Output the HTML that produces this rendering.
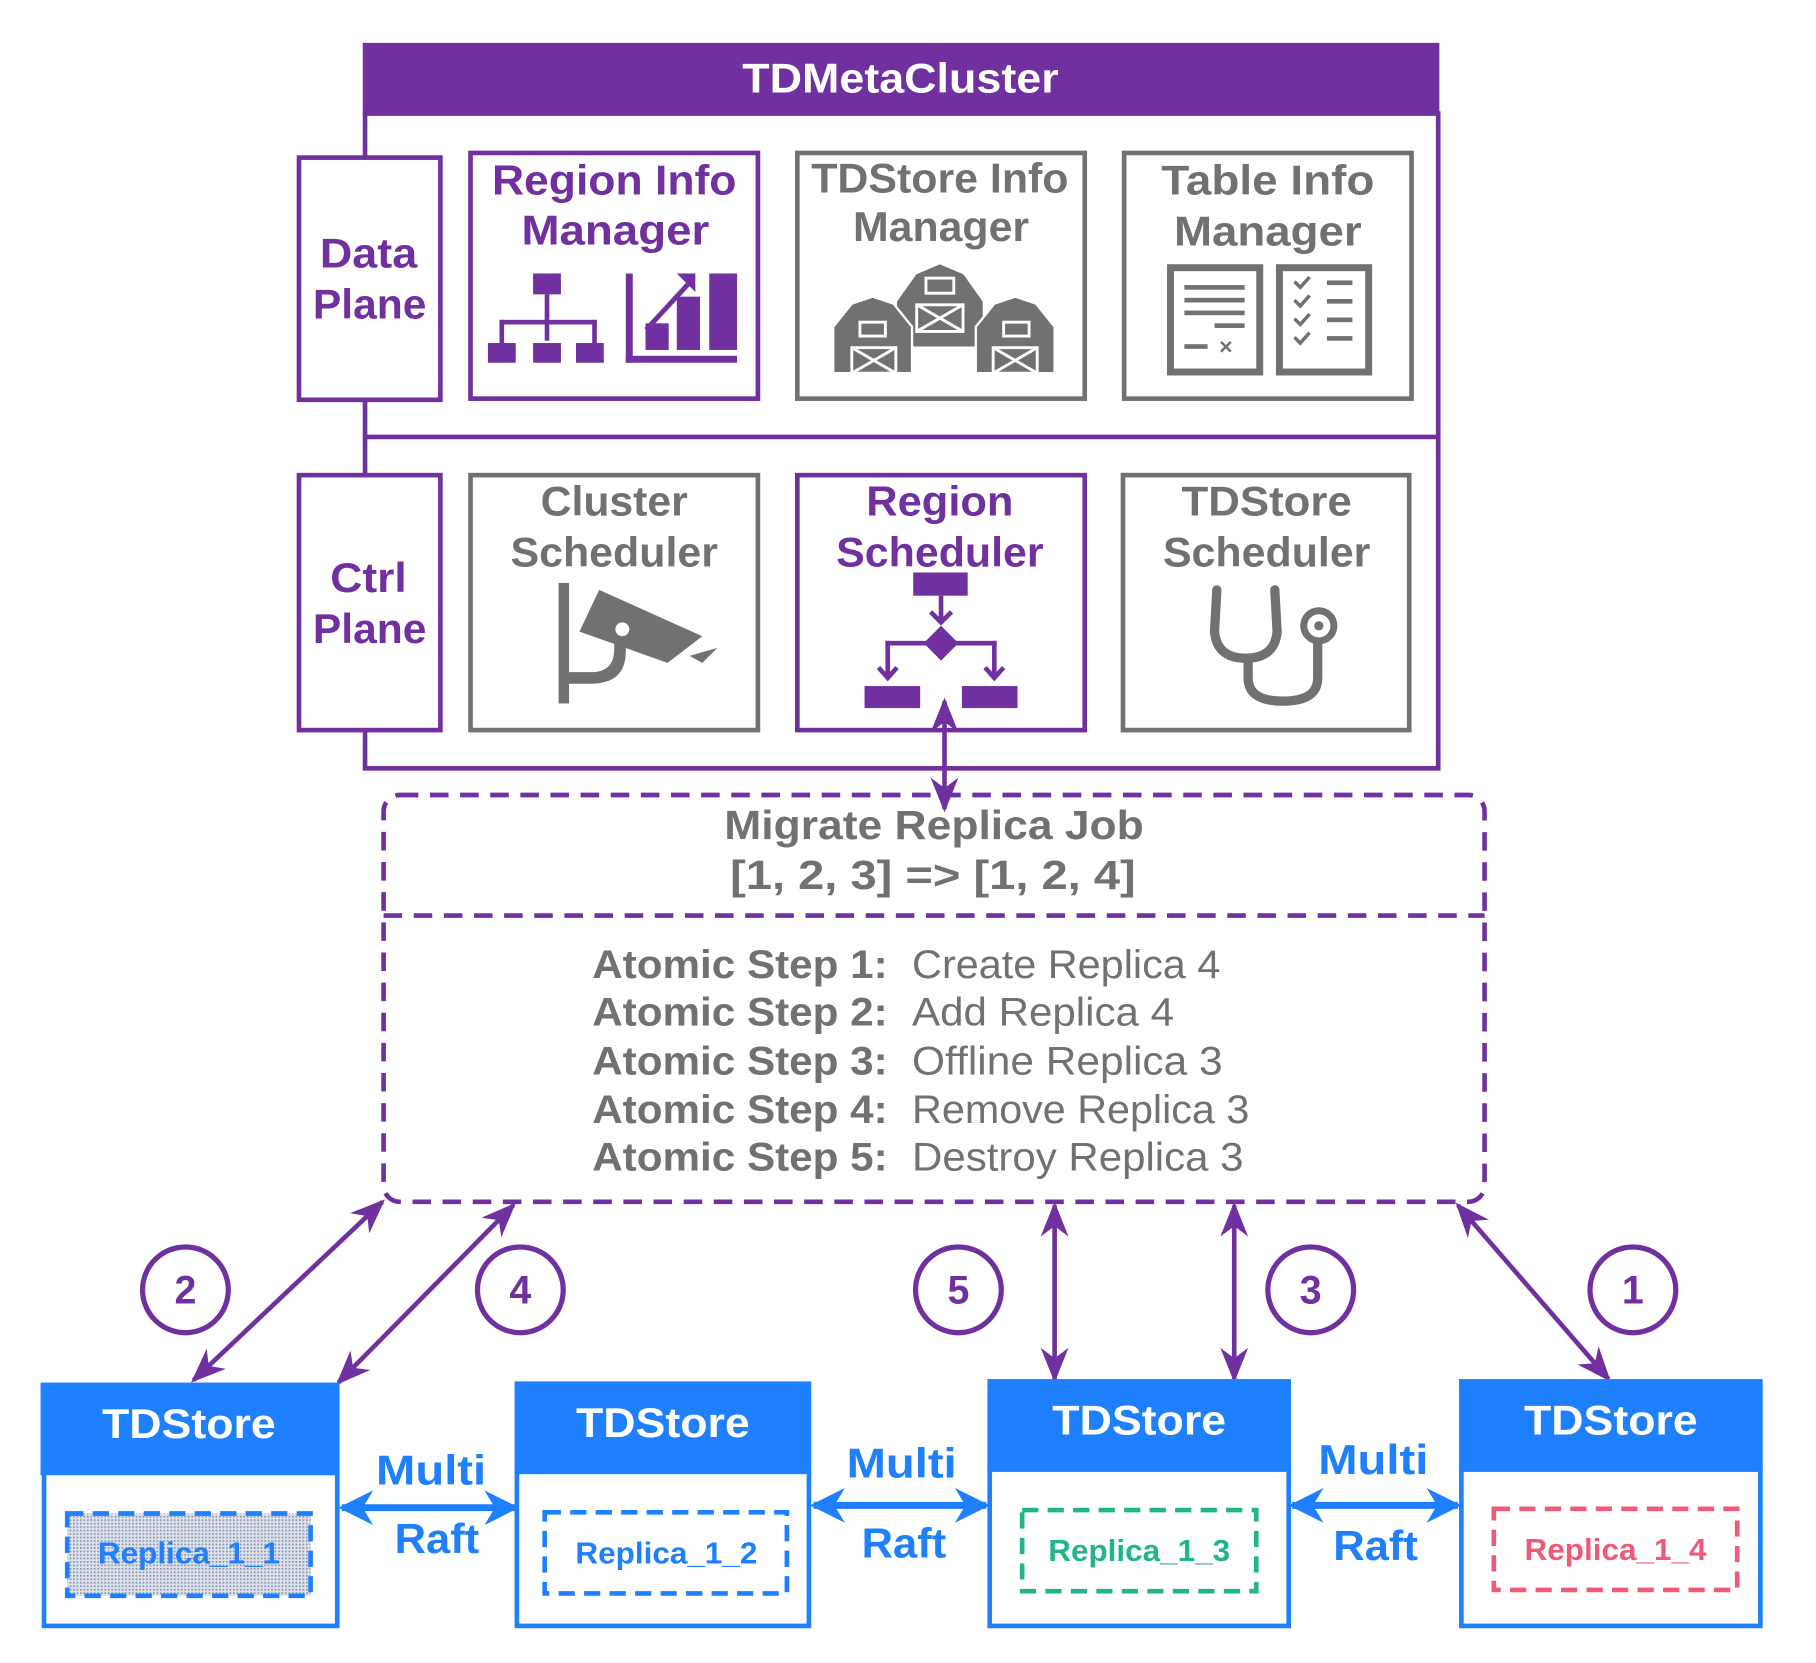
<!DOCTYPE html>
<html><head><meta charset="utf-8"><style>
html,body{margin:0;padding:0;background:#fff;}
svg{display:block;}
text{font-family:"Liberation Sans",sans-serif;font-weight:bold;}
text.n{font-weight:normal;}
</style></head><body>
<svg width="1816" height="1663" viewBox="0 0 1567 1435" preserveAspectRatio="none" xmlns="http://www.w3.org/2000/svg">
<defs>
<marker id="apu" viewBox="0 0 10 10" refX="9" refY="5" markerWidth="30" markerHeight="30" orient="auto-start-reverse" markerUnits="userSpaceOnUse"><path d="M0,1 L10,5 L0,9 L3,5 z" fill="#7030A0"/></marker>
<marker id="abu" viewBox="0 0 10 10" refX="9" refY="5" markerWidth="30" markerHeight="34" orient="auto-start-reverse" markerUnits="userSpaceOnUse"><path d="M0,0 L10,5 L0,10 L3,5 z" fill="#1E7FFF"/></marker>
<pattern id="dots" width="3" height="3" patternUnits="userSpaceOnUse"><rect width="3" height="3" fill="#dde3ee"/><rect width="1.5" height="1.5" fill="#8a93a6"/></pattern>
</defs>

<rect x="315" y="98" width="926" height="565" fill="none" stroke="#7030A0" stroke-width="4"/>
<rect x="313" y="37" width="929" height="62" fill="#7030A0"/>
<text x="777" y="80" font-size="36" fill="#fff" text-anchor="middle" textLength="273" lengthAdjust="spacingAndGlyphs">TDMetaCluster</text>
<line x1="315" y1="377" x2="1241" y2="377" stroke="#7030A0" stroke-width="4"/>

<rect x="258" y="136" width="122" height="209" fill="#fff" stroke="#7030A0" stroke-width="4"/>
<text x="318" y="231" font-size="36" fill="#7030A0" text-anchor="middle" textLength="84" lengthAdjust="spacingAndGlyphs">Data</text>
<text x="319" y="275" font-size="36" fill="#7030A0" text-anchor="middle" textLength="98" lengthAdjust="spacingAndGlyphs">Plane</text>
<rect x="258" y="410" width="122" height="220" fill="#fff" stroke="#7030A0" stroke-width="4"/>
<text x="318" y="511" font-size="36" fill="#7030A0" text-anchor="middle" textLength="66" lengthAdjust="spacingAndGlyphs">Ctrl</text>
<text x="319" y="555" font-size="36" fill="#7030A0" text-anchor="middle" textLength="98" lengthAdjust="spacingAndGlyphs">Plane</text>

<rect x="406" y="132" width="248" height="212" fill="none" stroke="#7030A0" stroke-width="4"/>
<text x="530" y="168" font-size="36" fill="#7030A0" text-anchor="middle" textLength="211" lengthAdjust="spacingAndGlyphs">Region Info</text>
<text x="531" y="211" font-size="36" fill="#7030A0" text-anchor="middle" textLength="162" lengthAdjust="spacingAndGlyphs">Manager</text>
<g fill="#7030A0">
<rect x="460" y="236" width="24" height="18"/>
<rect x="470" y="254" width="4" height="40"/>
<rect x="431" y="276" width="84" height="4"/>
<rect x="431" y="276" width="4" height="20"/><rect x="511" y="276" width="4" height="20"/>
<rect x="421" y="296" width="24" height="17"/><rect x="460" y="296" width="24" height="17"/><rect x="497" y="296" width="24" height="17"/>
<rect x="540" y="236" width="6" height="77"/><rect x="540" y="307" width="96" height="6"/>
<rect x="557" y="279" width="20" height="23"/><rect x="584" y="256" width="20" height="46"/><rect x="612" y="236" width="24" height="66"/>
<path d="M556 283 L592 244 L595 247 L559 286z"/><path d="M584 236 L600 236 L600 252z"/>
</g>

<rect x="688" y="132" width="248" height="212" fill="none" stroke="#717171" stroke-width="4"/>
<text x="811" y="166" font-size="36" fill="#717171" text-anchor="middle" textLength="222" lengthAdjust="spacingAndGlyphs">TDStore Info</text>
<text x="812" y="208" font-size="36" fill="#717171" text-anchor="middle" textLength="152" lengthAdjust="spacingAndGlyphs">Manager</text>
<g fill="#717171" stroke="#fff" stroke-width="2">
<path d="M773 300 L773 260 L790 236 L811 227 L832 236 L849 260 L849 300z"/>
<path d="M719 322 L719 282 L735 262 L753 256 L771 262 L787 282 L787 322z"/>
<path d="M842 322 L842 282 L858 262 L876 256 L894 262 L910 282 L910 322z"/>
</g>
<g fill="none" stroke="#fff" stroke-width="2.5">
<rect x="799" y="240" width="24" height="13"/><rect x="742" y="278" width="22" height="12"/><rect x="866" y="278" width="22" height="12"/>
<rect x="791" y="263" width="40" height="23"/><path d="M791 263 L831 286 M831 263 L791 286"/>
<rect x="735" y="300" width="38" height="22"/><path d="M735 300 L773 322 M773 300 L735 322"/>
<rect x="857" y="300" width="38" height="22"/><path d="M857 300 L895 322 M895 300 L857 322"/>
</g>

<rect x="970" y="132" width="248" height="212" fill="none" stroke="#717171" stroke-width="4"/>
<text x="1094" y="168" font-size="36" fill="#717171" text-anchor="middle" textLength="184" lengthAdjust="spacingAndGlyphs">Table Info</text>
<text x="1094" y="212" font-size="36" fill="#717171" text-anchor="middle" textLength="162" lengthAdjust="spacingAndGlyphs">Manager</text>
<g fill="none" stroke="#717171" stroke-width="6">
<rect x="1010" y="231" width="77" height="90"/><rect x="1104" y="231" width="77" height="90"/>
</g>
<g fill="#717171">
<rect x="1022" y="246" width="52" height="4"/><rect x="1022" y="257" width="52" height="4"/><rect x="1022" y="268" width="52" height="4"/><rect x="1048" y="279" width="26" height="4"/>
<rect x="1022" y="297" width="20" height="4"/><text x="1052" y="306" font-size="20" fill="#717171">×</text>
<rect x="1145" y="242" width="22" height="4"/><rect x="1145" y="258" width="22" height="4"/><rect x="1145" y="274" width="22" height="4"/><rect x="1145" y="290" width="22" height="4"/>
</g>
<g fill="none" stroke="#717171" stroke-width="3">
<path d="M1117 243 l5 5 l8 -9 M1117 259 l5 5 l8 -9 M1117 275 l5 5 l8 -9 M1117 291 l5 5 l8 -9"/>
</g>

<rect x="406" y="410" width="248" height="220" fill="none" stroke="#717171" stroke-width="4"/>
<text x="530" y="445" font-size="36" fill="#717171" text-anchor="middle" textLength="127" lengthAdjust="spacingAndGlyphs">Cluster</text>
<text x="530" y="489" font-size="36" fill="#717171" text-anchor="middle" textLength="179" lengthAdjust="spacingAndGlyphs">Scheduler</text>
<g fill="#717171">
<rect x="482" y="503" width="9" height="104"/>
<path d="M487 580 L510 580 Q530 580 530 560 L530 540 L540 540 L540 562 Q540 590 510 590 L487 590z"/>
<path d="M517 509 L606 549 L576 572 L500 545z"/>
<path d="M595 566 L619 559 L606 572z"/>
</g>
<circle cx="537" cy="543" r="6" fill="#fff"/>

<rect x="688" y="410" width="248" height="220" fill="none" stroke="#7030A0" stroke-width="4"/>
<text x="811" y="445" font-size="36" fill="#7030A0" text-anchor="middle" textLength="127" lengthAdjust="spacingAndGlyphs">Region</text>
<text x="811" y="489" font-size="36" fill="#7030A0" text-anchor="middle" textLength="179" lengthAdjust="spacingAndGlyphs">Scheduler</text>
<g fill="#7030A0">
<rect x="788" y="494" width="47" height="20"/>
<rect x="810" y="514" width="4" height="22"/><path d="M803 528 L812 537 L821 528" fill="none" stroke="#7030A0" stroke-width="4"/>
<path d="M812 540 L827 555 L812 570 L797 555z"/>
<rect x="764" y="553" width="96" height="4"/>
<rect x="764" y="553" width="4" height="30"/><rect x="856" y="553" width="4" height="30"/>
<path d="M758 576 L766 585 L774 576 M850 576 L858 585 L866 576" fill="none" stroke="#7030A0" stroke-width="4"/>
<rect x="746" y="592" width="48" height="19"/><rect x="830" y="592" width="48" height="19"/>
</g>

<rect x="969" y="410" width="247" height="220" fill="none" stroke="#717171" stroke-width="4"/>
<text x="1093" y="445" font-size="36" fill="#717171" text-anchor="middle" textLength="147" lengthAdjust="spacingAndGlyphs">TDStore</text>
<text x="1093" y="489" font-size="36" fill="#717171" text-anchor="middle" textLength="179" lengthAdjust="spacingAndGlyphs">Scheduler</text>
<g fill="none" stroke="#717171" stroke-width="8" stroke-linecap="round">
<path d="M1050 509 L1048 545 Q1050 568 1075 568 Q1100 568 1102 545 L1100 509"/>
<path d="M1077 568 L1077 585 Q1077 605 1107 605 Q1137 605 1137 585 L1137 552"/>
</g>
<circle cx="1138" cy="540" r="13" fill="#fff" stroke="#717171" stroke-width="6"/>
<circle cx="1138" cy="540" r="4" fill="#717171"/>

<rect x="331" y="686" width="950" height="351" rx="14" fill="none" stroke="#7030A0" stroke-width="4" stroke-dasharray="16,10"/>
<line x1="331" y1="790" x2="1281" y2="790" stroke="#7030A0" stroke-width="4" stroke-dasharray="16,10"/>
<text x="806" y="724" font-size="35" fill="#717171" text-anchor="middle" textLength="362" lengthAdjust="spacingAndGlyphs">Migrate Replica Job</text>
<text x="805" y="767" font-size="35" fill="#717171" text-anchor="middle" textLength="350" lengthAdjust="spacingAndGlyphs">[1, 2, 3] =&gt; [1, 2, 4]</text>
<g font-size="34" fill="#717171">
<text x="511" y="844" textLength="255" lengthAdjust="spacingAndGlyphs">Atomic Step 1:</text>
<text x="511" y="885" textLength="255" lengthAdjust="spacingAndGlyphs">Atomic Step 2:</text>
<text x="511" y="927" textLength="255" lengthAdjust="spacingAndGlyphs">Atomic Step 3:</text>
<text x="511" y="969" textLength="255" lengthAdjust="spacingAndGlyphs">Atomic Step 4:</text>
<text x="511" y="1010" textLength="255" lengthAdjust="spacingAndGlyphs">Atomic Step 5:</text>
</g>
<g font-size="34" fill="#717171">
<text class="n" x="787" y="844" textLength="266" lengthAdjust="spacingAndGlyphs">Create Replica 4</text>
<text class="n" x="787" y="885" textLength="226" lengthAdjust="spacingAndGlyphs">Add Replica 4</text>
<text class="n" x="787" y="927" textLength="268" lengthAdjust="spacingAndGlyphs">Offline Replica 3</text>
<text class="n" x="787" y="969" textLength="291" lengthAdjust="spacingAndGlyphs">Remove Replica 3</text>
<text class="n" x="787" y="1010" textLength="286" lengthAdjust="spacingAndGlyphs">Destroy Replica 3</text>
</g>

<g stroke="#7030A0" stroke-width="4" fill="none" marker-start="url(#apu)" marker-end="url(#apu)">
<line x1="815" y1="605" x2="815" y2="698"/>
<line x1="330" y1="1037" x2="167" y2="1191"/>
<line x1="443" y1="1040" x2="292" y2="1193"/>
<line x1="910" y1="1040" x2="910" y2="1190"/>
<line x1="1065" y1="1040" x2="1065" y2="1190"/>
<line x1="1258" y1="1040" x2="1388" y2="1190"/>
</g>
<g fill="#fff" stroke="#7030A0" stroke-width="4.5">
<circle cx="160" cy="1113" r="37"/><circle cx="449" cy="1113" r="37"/><circle cx="827" cy="1113" r="37"/><circle cx="1131" cy="1113" r="37"/><circle cx="1409" cy="1113" r="37"/>
</g>
<g font-size="34" fill="#7030A0" text-anchor="middle">
<text x="160" y="1125">2</text><text x="449" y="1125">4</text><text x="827" y="1125">5</text><text x="1131" y="1125">3</text><text x="1409" y="1125">1</text>
</g>

<g stroke="#1E7FFF" stroke-width="4" fill="#fff">
<rect x="38" y="1270" width="253" height="133"/>
<rect x="446" y="1270" width="252" height="133"/>
<rect x="854" y="1268" width="258" height="135"/>
<rect x="1261" y="1268" width="258" height="135"/>
</g>
<g fill="#1E7FFF">
<rect x="35" y="1193" width="258" height="80"/>
<rect x="444" y="1192" width="256" height="80"/>
<rect x="852" y="1190" width="262" height="80"/>
<rect x="1259" y="1190" width="262" height="80"/>
</g>
<g font-size="36" fill="#fff" text-anchor="middle">
<text x="163" y="1241" textLength="150" lengthAdjust="spacingAndGlyphs">TDStore</text>
<text x="572" y="1240" textLength="150" lengthAdjust="spacingAndGlyphs">TDStore</text>
<text x="983" y="1238" textLength="150" lengthAdjust="spacingAndGlyphs">TDStore</text>
<text x="1390" y="1238" textLength="150" lengthAdjust="spacingAndGlyphs">TDStore</text>
</g>

<rect x="58" y="1306" width="210" height="71" fill="url(#dots)" stroke="#1E7FFF" stroke-width="4" stroke-dasharray="14,8"/>
<rect x="470" y="1305" width="209" height="70" fill="none" stroke="#1E7FFF" stroke-width="4" stroke-dasharray="14,8"/>
<rect x="882" y="1303" width="202" height="70" fill="none" stroke="#22B48C" stroke-width="4" stroke-dasharray="14,8"/>
<rect x="1289" y="1302" width="210" height="70" fill="none" stroke="#EE5A78" stroke-width="4" stroke-dasharray="14,8"/>
<g font-size="26">
<text x="163" y="1349" fill="#1E7FFF" text-anchor="middle" textLength="157" lengthAdjust="spacingAndGlyphs">Replica_1_1</text>
<text x="575" y="1349" fill="#1E7FFF" text-anchor="middle" textLength="157" lengthAdjust="spacingAndGlyphs">Replica_1_2</text>
<text x="983" y="1347" fill="#22B48C" text-anchor="middle" textLength="157" lengthAdjust="spacingAndGlyphs">Replica_1_3</text>
<text x="1394" y="1346" fill="#EE5A78" text-anchor="middle" textLength="157" lengthAdjust="spacingAndGlyphs">Replica_1_4</text>
</g>

<g stroke="#1E7FFF" stroke-width="6" marker-start="url(#abu)" marker-end="url(#abu)">
<line x1="295" y1="1301" x2="445" y2="1301"/>
<line x1="702" y1="1299" x2="851" y2="1299"/>
<line x1="1115" y1="1299" x2="1258" y2="1299"/>
</g>
<g font-size="36" fill="#1E7FFF" text-anchor="middle">
<text x="372" y="1281" textLength="95" lengthAdjust="spacingAndGlyphs">Multi</text>
<text x="377" y="1340" textLength="73" lengthAdjust="spacingAndGlyphs">Raft</text>
<text x="778" y="1275" textLength="95" lengthAdjust="spacingAndGlyphs">Multi</text>
<text x="780" y="1344" textLength="73" lengthAdjust="spacingAndGlyphs">Raft</text>
<text x="1185" y="1272" textLength="95" lengthAdjust="spacingAndGlyphs">Multi</text>
<text x="1187" y="1346" textLength="73" lengthAdjust="spacingAndGlyphs">Raft</text>
</g>
</svg>
</body></html>
